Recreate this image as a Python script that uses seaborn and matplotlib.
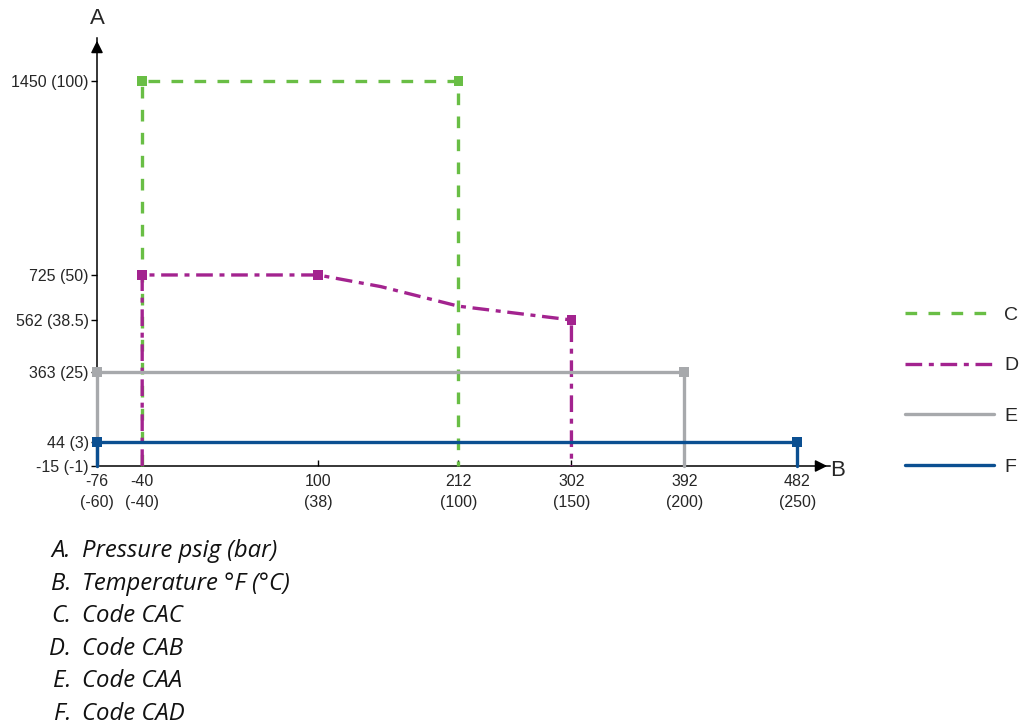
import numpy as np
import matplotlib
matplotlib.use("Agg")
import matplotlib.pyplot as plt
import seaborn as sns

# ======================================
# Data
# ======================================

x_ticks = [-76, -40, 100, 212, 302, 392, 482]
x_tick_labels = ["-76\n(-60)", "-40\n(-40)", "100\n(38)", "212\n(100)",
                 "302\n(150)", "392\n(200)", "482\n(250)"]

y_ticks = [-15, 44, 363, 562, 725, 1450]
y_tick_labels = ["-15 (-1)", "44 (3)", "363 (25)", "562 (38.5)",
                 "725 (50)", "1450 (100)"]

# Code CAC
c_temp = [-40, -40, 212, 212]
c_press = [-15, 1450, 1450, -15]
c_mark_temp = [-40, 212]
c_mark_press = [1450, 1450]

# Code CAB
d_temp = [-40, -40, 100, 150, 212, 257, 302, 302]
d_press = [-15, 725, 725, 683, 612, 587, 562, -15]
d_mark_temp = [-40, 100, 302]
d_mark_press = [725, 725, 562]

# Code CAA
e_temp = [-76, -76, 392, 392]
e_press = [-15, 363, 363, -15]
e_mark_temp = [-76, 392]
e_mark_press = [363, 363]

# Code CAD
f_temp = [-76, -76, 482, 482]
f_press = [-15, 44, 44, -15]
f_mark_temp = [-76, 482]
f_mark_press = [44, 44]

series_labels = ["C", "D", "E", "F"]

caption_letters = ["A.", "B.", "C.", "D.", "E.", "F."]
caption_texts = ["Pressure psig (bar)", "Temperature °F (°C)", "Code CAC",
                 "Code CAB", "Code CAA", "Code CAD"]

# ======================================
# Style
# ======================================

GREEN = "#69BE45"
MAGENTA = "#A3238F"
GREY = "#A7A9AC"
BLUE = "#0B4F91"

sns.set_theme(style="white")
plt.rcParams["font.family"] = ["Liberation Sans", "DejaVu Sans"]

fig = plt.figure(figsize=(10.3, 7.27), dpi=100)
ax = fig.add_axes([97 / 1030, 261 / 727, 733 / 1030, 428 / 727])

# schematic (non-linear) pressure axis, as in the drawing
knots_v = np.array([-200, -15, 44, 363, 562, 725, 1450, 2500])
knots_p = np.array([-80, 0, 24, 94, 146, 191, 385, 665])


def fwd(v):
    return np.interp(v, knots_v, knots_p)


def inv(p):
    return np.interp(p, knots_p, knots_v)


ax.set_yscale("function", functions=(fwd, inv))

# ======================================
# Lines
# ======================================

lw = 2.4
sns.lineplot(x=c_temp, y=c_press, sort=False, estimator=None, ax=ax,
             color=GREEN, linewidth=lw, linestyle=(0, (3.5, 3.4)),
             label=series_labels[0], clip_on=False)
sns.lineplot(x=d_temp, y=d_press, sort=False, estimator=None, ax=ax,
             color=MAGENTA, linewidth=lw, linestyle=(0, (5, 2, 1.5, 2)),
             label=series_labels[1], clip_on=False)
sns.lineplot(x=e_temp, y=e_press, sort=False, estimator=None, ax=ax,
             color=GREY, linewidth=lw, label=series_labels[2], clip_on=False)
sns.lineplot(x=f_temp, y=f_press, sort=False, estimator=None, ax=ax,
             color=BLUE, linewidth=lw, label=series_labels[3], clip_on=False)

for mx, my, col in [(c_mark_temp, c_mark_press, GREEN),
                    (d_mark_temp, d_mark_press, MAGENTA),
                    (e_mark_temp, e_mark_press, GREY),
                    (f_mark_temp, f_mark_press, BLUE)]:
    sns.scatterplot(x=mx, y=my, ax=ax, marker="s", s=50, color=col,
                    edgecolor="none", zorder=5, legend=False, clip_on=False)

# ======================================
# Axes
# ======================================

ax.set_xlim(-76, 508)
ax.set_ylim(-15, 1611)

ax.set_xticks(x_ticks)
ax.set_xticklabels(x_tick_labels, fontsize=11.5, linespacing=1.45)
ax.set_yticks(y_ticks)
ax.set_yticklabels(y_tick_labels, fontsize=11.5)
ax.minorticks_off()

ax.tick_params(axis="x", direction="in", length=4, width=1, color="black",
               pad=6, bottom=True)
ax.tick_params(axis="y", direction="out", length=4, width=1, color="black",
               pad=2, left=True)

for side in ["top", "right"]:
    ax.spines[side].set_visible(False)
for side in ["left", "bottom"]:
    ax.spines[side].set_color("black")
    ax.spines[side].set_linewidth(1.1)
    ax.spines[side].set_zorder(1)

ax.annotate("", xy=(0, 1), xytext=(0, 0.97), xycoords="axes fraction",
            arrowprops=dict(arrowstyle="-|>", color="black", lw=1.1,
                            mutation_scale=18))
ax.annotate("", xy=(1, 0), xytext=(0.98, 0), xycoords="axes fraction",
            arrowprops=dict(arrowstyle="-|>", color="black", lw=1.1,
                            mutation_scale=18))

fig.text(97 / 1030, 1 - 18 / 727, "A", fontsize=16, ha="center", va="center")
fig.text(838 / 1030, 1 - 470 / 727, "B", fontsize=16, ha="center",
         va="center")

# ======================================
# Legend
# ======================================

ax.legend(loc="center left", bbox_to_anchor=(905 / 1030, 1 - 391 / 727),
          bbox_transform=fig.transFigure, frameon=False, fontsize=14,
          handlelength=4.6, handletextpad=0.5, labelspacing=1.7,
          borderpad=0, borderaxespad=0)

# ======================================
# Caption
# ======================================

for i, (letter, text) in enumerate(zip(caption_letters, caption_texts)):
    yb = 1 - (557 + i * 32.6) / 727
    fig.text(71 / 1030, yb, letter, fontsize=17.2, style="italic",
             family="Open Sans", ha="right", va="baseline", color="#111111")
    fig.text(82 / 1030, yb, text, fontsize=17.2, style="italic",
             family="Open Sans", ha="left", va="baseline", color="#111111")

fig.savefig("out.png", dpi=100)
plt.close(fig)
